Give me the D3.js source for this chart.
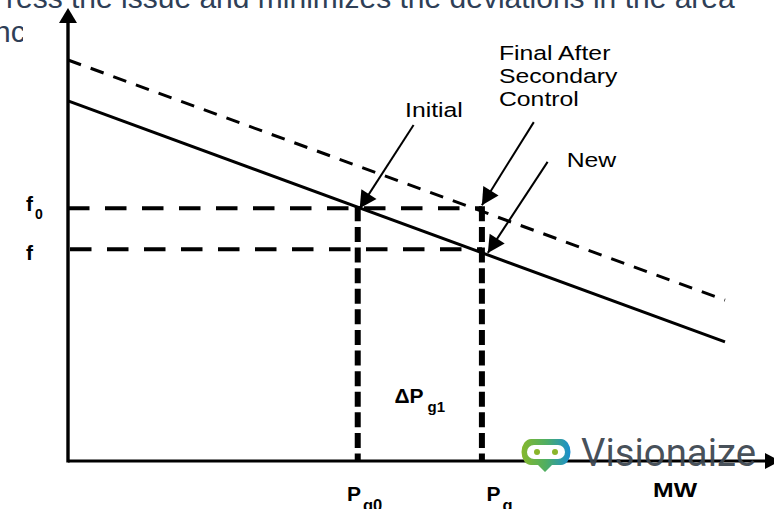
<!DOCTYPE html>
<html><head><meta charset="utf-8">
<script src="https://cdn.jsdelivr.net/npm/d3@7"></script>
<style>html,body{margin:0;padding:0;background:#fff;overflow:hidden}svg{display:block}text{font-family:"Liberation Sans",Arial,sans-serif}</style>
</head><body><svg id="c" width="774" height="509"></svg>
<script>
// Data, in axis units (MW % on x, frequency % on y)
const initialLine = [[0, 89.8], [100, 29.7]];
const finalLine = [[0, 100], [100, 40.1]];
const freqLevels = [{name:"f", sub:"0", y:63.0},{name:"f", sub:"", y:52.8}];
const powerLevels = [{name:"P", sub:"g0", x:44.1},{name:"P", sub:"g", x:63}];
const callouts = [
  {from:[52.6,83.8], to:[44.4,63.0]},
  {from:[70.9,84.5], to:[63,63.8]},
  {from:[73,74.6], to:[63.9,51.9]}
];
const curveLabels = [
  {lines:["Initial"], x:51.3, y:85.8},
  {lines:["Final After","Secondary","Control"], x:65.6, y:100},
  {lines:["New"], x:75.9, y:73.3}
];

const svg = d3.select("#c");
const x = d3.scaleLinear().domain([0,100]).range([68,725]);
const y = d3.scaleLinear().domain([0,100]).range([461,60]);
const line = d3.line().x(d=>x(d[0])).y(d=>y(d[1]));
const black = "#000";

const defs = svg.append("defs");
const grad = defs.append("linearGradient").attr("id","lg").attr("x1","0").attr("x2","1").attr("y1","0").attr("y2","0");
grad.append("stop").attr("offset","0").attr("stop-color","#86b82c");
grad.append("stop").attr("offset","0.5").attr("stop-color","#4fae62");
grad.append("stop").attr("offset","1").attr("stop-color","#1a8fd0");

// background text cropped from the source slide
const bg = svg.append("g").attr("fill","#2f3f57").attr("font-size",30);
bg.append("text").attr("x",6).attr("y",8).text("ress the issue and minimizes the deviations in the area");
defs.append("clipPath").attr("id","cl").append("rect").attr("x",0).attr("y",0).attr("width",23).attr("height",60);
bg.append("text").attr("x",-6).attr("y",42).attr("clip-path","url(#cl)").text("nce");

// level guides
svg.append("g").selectAll("line").data(freqLevels).join("line")
  .attr("x1",x(0)).attr("x2",x(powerLevels[1].x))
  .attr("y1",d=>y(d.y)).attr("y2",d=>y(d.y))
  .attr("stroke",black).attr("stroke-width",4).attr("stroke-dasharray","21.5 15.5")
  .attr("stroke-dashoffset",(d,i)=>i?-2:0);
svg.append("g").selectAll("line").data(powerLevels).join("line")
  .attr("x1",d=>x(d.x)).attr("x2",d=>x(d.x))
  .attr("y1",y(63.5)).attr("y2",y(0))
  .attr("stroke",black).attr("stroke-width",6).attr("stroke-dasharray","15 5.6");

// characteristic lines
svg.append("path").attr("d",line(initialLine)).attr("fill","none").attr("stroke",black).attr("stroke-width",3);
svg.append("path").attr("d",line(finalLine)).attr("fill","none").attr("stroke",black).attr("stroke-width",3).attr("stroke-dasharray","13.8 10.3");

// axes
const axisY = d3.axisLeft(y).tickValues([]).tickSize(0);
svg.append("g").attr("transform",`translate(${x(0)},0)`).call(axisY)
  .call(g=>g.select(".domain").attr("d",`M0,${y(0)+1.5}V23`).attr("stroke",black).attr("stroke-width",3.4));
svg.append("path").attr("d",`M${x(0)},8L${x(0)-9},23H${x(0)+9}Z`).attr("fill",black);
const axisX = d3.axisBottom(x).tickValues([]).tickSize(0);
svg.append("g").attr("transform",`translate(0,${y(0)})`).call(axisX)
  .call(g=>g.select(".domain").attr("d",`M${x(0)},0H766`).attr("stroke",black).attr("stroke-width",3));
svg.append("path").attr("d",`M780,${y(0)}L765,${y(0)-8}V${y(0)+8}Z`).attr("fill",black);

// callout arrows
const co = svg.append("g").selectAll("g").data(callouts).join("g");
co.append("line")
  .attr("x1",d=>x(d.from[0])).attr("y1",d=>y(d.from[1]))
  .attr("x2",d=>x(d.to[0])).attr("y2",d=>y(d.to[1]))
  .attr("stroke",black).attr("stroke-width",2);
co.append("path").attr("fill",black).attr("d",d=>{
  const x1=x(d.from[0]),y1=y(d.from[1]),x2=x(d.to[0]),y2=y(d.to[1]);
  const a=Math.atan2(y2-y1,x2-x1),L=17,W=9;
  const bx=x2-L*Math.cos(a),by=y2-L*Math.sin(a);
  return `M${x2},${y2}L${bx-W*Math.sin(a)},${by+W*Math.cos(a)}L${bx+W*Math.sin(a)},${by-W*Math.cos(a)}Z`;
});

// curve labels (the source text is stretched horizontally)
const cl = svg.append("g").attr("font-size",19.5).attr("fill","#000");
curveLabels.forEach(l=>{
  l.lines.forEach((t,i)=>cl.append("text")
    .attr("transform",`translate(${x(l.x)},${y(l.y)+i*23})scale(1.27,1)`).text(t));
});

// axis labels
const lab = svg.append("g").attr("font-weight","bold").attr("fill","#000");
function sub(xp,yp,name,s,size,ssize,dy,gap,sx){
  lab.append("text").attr("transform",`translate(${xp},${yp})scale(${sx||1},1)`).attr("font-size",size).text(name);
  if(s) lab.append("text").attr("x",xp+gap).attr("y",yp+dy).attr("font-size",ssize).text(s);
}
sub(26,211,"f","0",21,14,8,9);
sub(26,260,"f","",21,14,8,9);
sub(347,501,"P","g0",21,16.5,10,16);
sub(486.5,501,"P","g",21,16.5,10,16);
sub(394.5,403,"ΔP","g1",21,15,9,33);
sub(653,497,"MW","",20,0,0,0,1.24);

// watermark
const wm = svg.append("g");
wm.append("path").attr("fill","url(#lg)").attr("d","M531,439H561A9.5,13 0 0 1 570.5,452A9.5,13 0 0 1 561,465H552L545,472L538,465H531A9.5,13 0 0 1 521.5,452A9.5,13 0 0 1 531,439Z");
wm.append("rect").attr("x",527).attr("y",445).attr("width",38).attr("height",14).attr("rx",7).attr("fill","#fff");
wm.append("circle").attr("cx",537).attr("cy",452).attr("r",3).attr("fill","#8ab62a");
wm.append("circle").attr("cx",555).attr("cy",452).attr("r",3).attr("fill","#8ab62a");
wm.append("text").attr("x",581).attr("y",465.5).attr("font-size",38).attr("fill","#3c4650").attr("fill-opacity",0.95)
  .attr("textLength",175).attr("lengthAdjust","spacingAndGlyphs").style("font-family","Roboto").text("Visionaize");
</script></body></html>
